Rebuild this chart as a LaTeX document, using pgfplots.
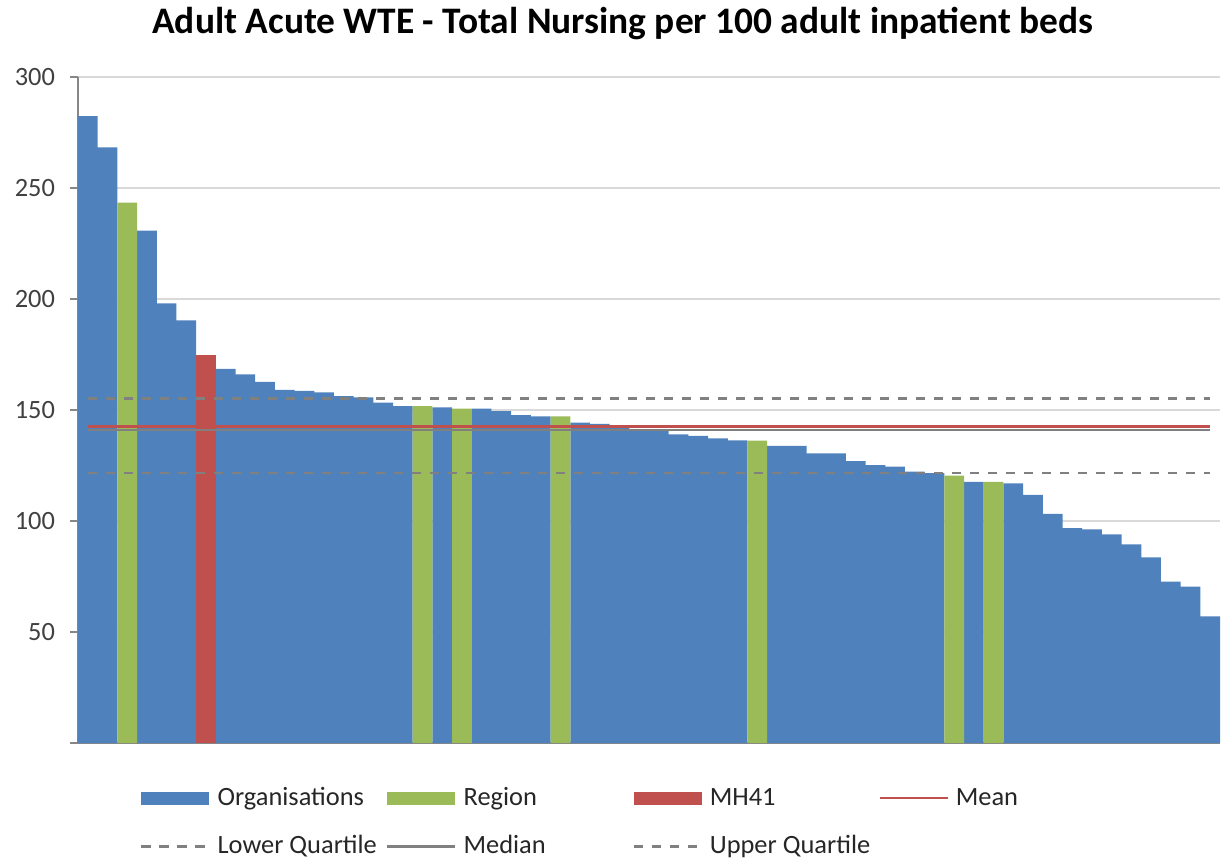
\documentclass[border=0pt]{standalone}
\usepackage{fontspec}
\setmainfont{Carlito}
\usepackage{pgfplots}
\pgfplotsset{compat=1.18}
\definecolor{org}{HTML}{4F81BD}
\definecolor{reg}{HTML}{9BBB59}
\definecolor{mh}{HTML}{C0504D}
\definecolor{gridc}{HTML}{D9D9D9}
\definecolor{axc}{HTML}{868686}
\definecolor{qc}{HTML}{808080}
\definecolor{tickc}{HTML}{404040}
\definecolor{legc}{HTML}{262626}
\newcommand{\lt}[1]{\makebox[84.3pt][l]{#1}}
\pgfplotsset{
  barleg/.style={legend image code/.code={\fill[##1] (0pt,-3.25pt) rectangle (34pt,3.25pt);}},
  lineleg/.style={legend image code/.code={\draw[##1] (0pt,0pt) -- (34pt,0pt);}},
}
\begin{document}
\begin{tikzpicture}
\begin{axis}[
  set layers,
  scale only axis, width=571pt, height=333pt,
  at={(0,0)}, anchor=south west,
  xmin=0.5, xmax=58.5, ymin=0, ymax=300,
  axis x line*=bottom, axis y line*=left,
  axis line style={draw=axc, line width=0.6pt, /pgfplots/on layer=axis foreground},
  xtick=\empty,
  ytick={0,50,...,300},
  yticklabels={,50,100,150,200,250,300},
  tick align=outside, major tick length=4pt,
  ytick style={draw=axc, line width=0.6pt},
  ymajorgrids, grid style={draw=gridc, line width=0.6pt},
  yticklabel style={font=\fontsize{13.2}{15}\selectfont, text=tickc, xshift=-4pt},
  /pgf/number format/assume math mode=true,
  ybar, bar width=1, bar shift=0pt,
  title={Adult Acute WTE - Total Nursing per 100 adult inpatient beds},
  title style={at={(0.477,1)}, anchor=base, yshift=16pt, inner sep=0pt, font=\bfseries\fontsize{18.7}{22}\selectfont},
  legend columns=4, legend cell align=left,
  legend style={at={(0.0543,-0.0631)}, anchor=north west, draw=none, fill=none,
    inner sep=0pt, outer sep=0pt,
    font=\fontsize{13.2}{15}\selectfont, text=legc,
    nodes={inner sep=0pt, text height=10pt, text depth=3pt},
    /tikz/column sep=0pt, row sep=11.2pt,
    /tikz/every odd column/.append style={column sep=3.5pt}},
]
\addplot[fill=org, draw=none, barleg] coordinates {
(1,282.4) (2,268.3) (4,230.8) (5,198.0) (6,190.4)
(8,168.5) (9,166.1) (10,162.7) (11,159.1) (12,158.6) (13,158.0) (14,156.3) (15,155.7) (16,153.3) (17,151.8)
(19,151.2) (21,150.6) (22,149.5) (23,147.7) (24,147.1)
(26,144.3) (27,143.7) (28,142.9) (29,141.3) (30,141.0) (31,139.0) (32,138.4) (33,137.2) (34,136.3)
(36,133.8) (37,133.8) (38,130.5) (39,130.5) (40,127.0) (41,125.2) (42,124.5) (43,122.2) (44,121.6)
(46,117.6) (48,117.0) (49,111.8) (50,103.2) (51,96.8) (52,96.2) (53,94.0) (54,89.5) (55,83.6) (56,72.7) (57,70.4) (58,57.1)
};
\addlegendentry{\lt{Organisations}}
\addplot[fill=reg, draw=none, barleg] coordinates {
(3,243.4) (18,151.8) (20,150.6) (25,147.1) (35,136.2) (45,120.4) (47,117.6)
};
\addlegendentry{\lt{Region}}
\addplot[fill=mh, draw=none, barleg] coordinates {
(7,174.8)
};
\addlegendentry{\lt{MH41}}
\addplot[sharp plot, mh, line width=1.2pt, lineleg] coordinates {(1,142.5) (58,142.5)};
\addlegendentry{\lt{Mean}}
\addplot[sharp plot, qc, line width=1.3pt, dash pattern=on 4.6pt off 4.4pt, lineleg] coordinates {(1,121.7) (58,121.7)};
\addlegendentry{\lt{Lower Quartile}}
\addplot[sharp plot, qc, line width=1.2pt, lineleg] coordinates {(1,140.9) (58,140.9)};
\addlegendentry{\lt{Median}}
\addplot[sharp plot, qc, line width=1.3pt, dash pattern=on 4.6pt off 4.4pt, lineleg] coordinates {(1,155.3) (58,155.3)};
\addlegendentry{\lt{Upper Quartile}}
\end{axis}
\path (-39pt,-60.5pt) rectangle (575.5pt,371.5pt);
\end{tikzpicture}
\end{document}
